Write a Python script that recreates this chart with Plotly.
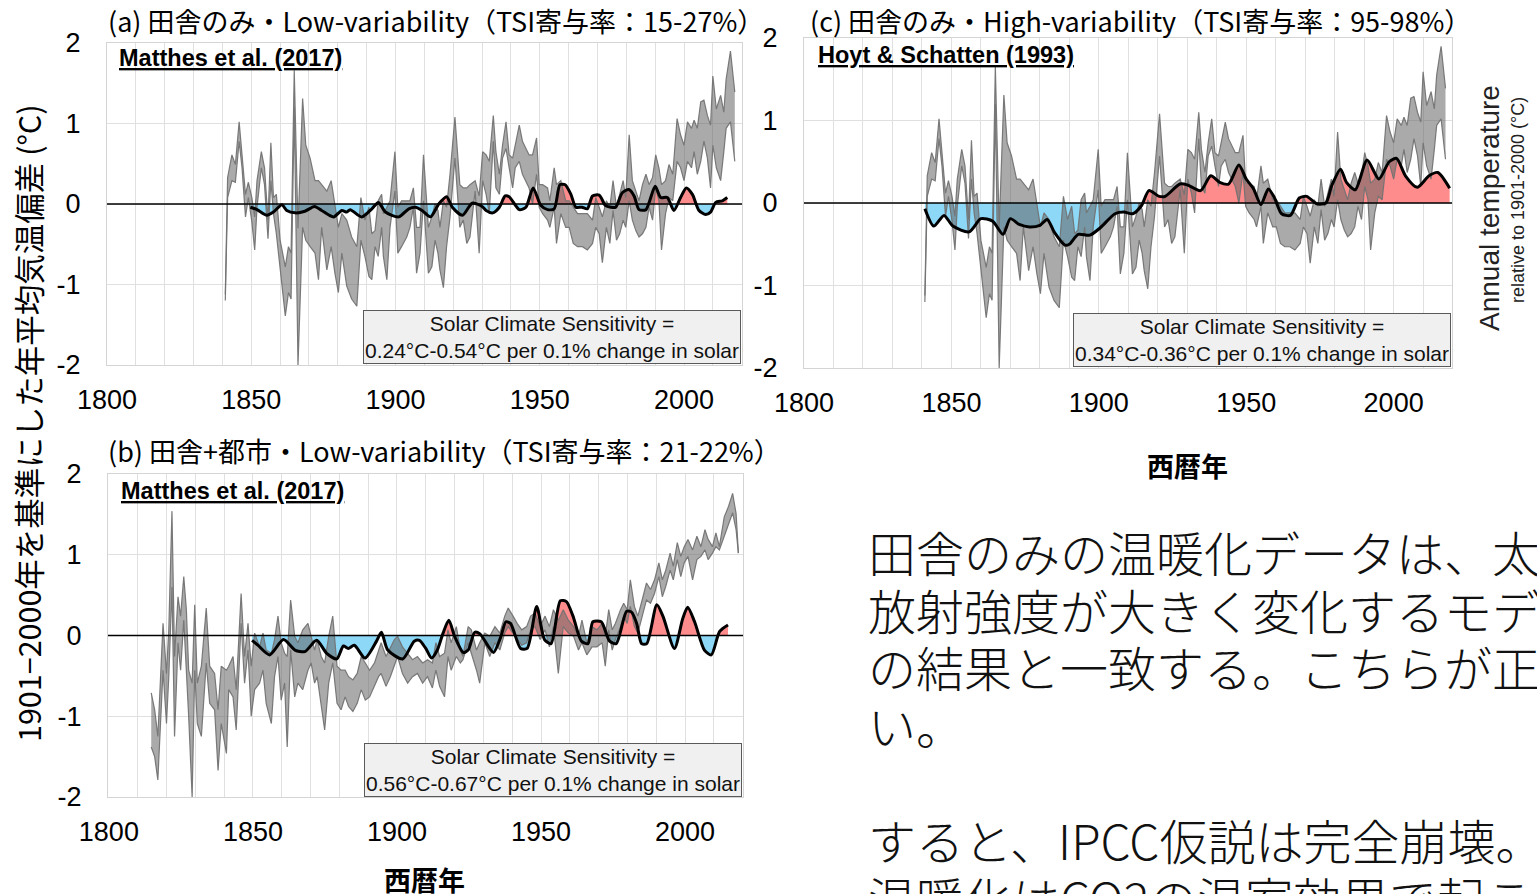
import plotly.graph_objects as go

# ---------------------------------------------------------------------------
# Data
# ---------------------------------------------------------------------------
# Rural-only temperature anomaly range (upper / lower envelope), deg C
RURAL_YEARS = [1841.0, 1841.8, 1843.3, 1844.5, 1845.8, 1846.8, 1848.0, 1849.0, 1850.2, 1851.2,
               1852.0, 1853.5, 1854.6, 1855.8, 1856.8, 1857.7, 1858.7, 1860.0, 1861.8, 1862.9,
               1863.8, 1864.9, 1866.2, 1867.8, 1868.9, 1870.4, 1872.1, 1873.3, 1874.4, 1876.2,
               1877.7, 1879.0, 1880.2, 1881.4, 1883.1, 1884.8, 1886.6, 1888.0, 1889.4, 1890.8,
               1891.8, 1892.9, 1894.0, 1895.2, 1895.8, 1897.0, 1898.1, 1899.8, 1900.8, 1902.1,
               1903.9, 1905.0, 1906.2, 1907.3, 1908.5, 1909.7, 1911.4, 1912.6, 1913.7, 1914.7,
               1915.4, 1916.6, 1917.7, 1918.9, 1920.6, 1922.3, 1923.5, 1924.7, 1925.8, 1927.6,
               1929.0, 1930.2, 1931.4, 1932.5, 1933.9, 1934.8, 1936.0, 1937.1, 1938.3, 1939.4,
               1940.6, 1941.5, 1942.9, 1944.0, 1945.2, 1946.3, 1947.5, 1948.9, 1949.8, 1951.0,
               1952.7, 1953.5, 1955.0, 1955.8, 1957.3, 1959.0, 1960.2, 1961.6, 1963.1, 1964.8,
               1966.5, 1968.3, 1969.4, 1970.6, 1971.7, 1973.1, 1974.3, 1975.4, 1976.6, 1977.7,
               1978.9, 1979.8, 1981.0, 1982.1, 1983.3, 1984.4, 1985.6, 1986.8, 1987.9, 1989.1,
               1990.2, 1991.3, 1992.2, 1993.6, 1994.8, 1996.1, 1997.6, 1998.8, 2000.0, 2001.2,
               2002.6, 2003.5, 2004.6, 2005.8, 2006.9, 2008.1, 2009.2, 2010.0, 2011.2, 2012.7,
               2013.8, 2014.6, 2016.1, 2017.6]
RURAL_UPPER = [-1.12, 0.33, 0.61, 0.49, 1.02, 0.65, 0.12, 0.27, 0.08, -0.16,
               0.29, 0.65, 0.45, -0.20, 0.76, 0.08, 0.12, -0.45, -0.78, -0.53,
               -0.61, 1.66, -0.30, 1.31, 0.73, 0.57, 0.29, 0.29, 0.24, 0.16,
               0.29, -0.04, -0.29, -0.12, -0.20, -0.41, -0.53, 0.08, -0.20, -0.04,
               -0.37, -0.33, 0.04, 0.12, -0.12, -0.04, 0.04, 0.65, -0.04, 0.04,
               0.04, 0.04, 0.20, -0.29, -0.29, 0.61, -0.29, -0.16, 0.00, -0.08,
               -0.29, 0.04, -0.04, 0.37, 1.08, 0.24, 0.20, 0.20, 0.24, 0.29,
               0.10, 0.65, 0.61, 0.53, 1.10, 0.65, 0.37, 0.73, 1.02, 0.61,
               0.57, 0.73, 0.98, 0.78, 0.69, 0.61, 0.61, 0.82, 0.24, 0.24,
               0.20, 0.04, 0.45, 0.24, 0.29, 0.04, 0.04, -0.04, -0.12, -0.12,
               -0.12, -0.20, 0.08, -0.04, -0.16, 0.04, -0.04, 0.29, -0.04, 0.12,
               0.29, 0.08, 0.86, 0.29, 0.16, 0.04, 0.24, 0.37, 0.24, 0.33,
               0.61, 0.45, 0.24, 0.29, 0.49, 0.37, 1.06, 0.86, 0.73, 1.02,
               0.94, 1.04, 0.94, 1.27, 1.29, 1.10, 0.98, 1.59, 1.18, 1.35,
               1.14, 1.55, 1.90, 1.39]
RURAL_LOWER = [-1.20, 0.08, 0.29, 0.27, 0.78, 0.45, -0.16, 0.08, -0.22, -0.57,
               -0.04, 0.45, 0.24, -0.43, 0.29, -0.12, -0.37, -0.78, -1.39, -1.10,
               -1.18, 1.20, -2.00, -0.29, -0.45, -0.53, -0.61, -0.94, -0.29, -0.82,
               -0.53, -0.86, -1.10, -0.61, -1.02, -1.18, -1.27, -0.45, -0.65, -0.90,
               -0.94, -0.53, -0.65, -0.29, -0.65, -0.94, -0.29, 0.16, -0.61, -0.53,
               -0.41, -0.29, -0.04, -0.86, -0.61, 0.04, -0.86, -0.78, -0.45, -0.61,
               -0.82, -1.04, -0.53, -0.16, 0.57, -0.29, -0.20, -0.49, -0.41, 0.16,
               -0.61, 0.29, 0.12, -0.12, 0.78, 0.20, 0.12, 0.57, 0.69, 0.45,
               0.20, 0.45, 0.53, 0.37, 0.29, 0.20, 0.00, 0.37, -0.04, -0.12,
               -0.20, -0.29, -0.04, -0.49, -0.12, -0.29, -0.29, -0.49, -0.53, -0.53,
               -0.57, -0.49, -0.29, -0.37, -0.73, -0.29, -0.49, -0.08, -0.45, -0.37,
               -0.20, -0.29, 0.04, -0.20, -0.33, -0.41, -0.37, -0.29, -0.04, -0.20,
               0.20, 0.04, -0.57, -0.12, 0.08, 0.04, 0.53, 0.45, 0.29, 0.53,
               0.45, 0.65, 0.37, 0.53, 0.78, 0.57, 0.20, 0.73, 0.45, 0.29,
               0.65, 0.94, 1.02, 0.53]

# Rural + urban temperature anomaly range (upper / lower envelope), deg C
ALL_YEARS = [1814.7, 1815.9, 1817.0, 1818.2, 1818.8, 1820.0, 1820.8, 1821.9, 1822.8, 1824.0,
             1824.9, 1826.0, 1826.9, 1827.7, 1828.9, 1829.8, 1830.7, 1832.1, 1833.8, 1835.0,
             1836.7, 1837.9, 1839.0, 1840.8, 1841.6, 1843.1, 1844.2, 1845.9, 1847.1, 1848.3,
             1849.4, 1850.6, 1852.3, 1853.5, 1854.6, 1856.4, 1857.5, 1858.7, 1859.8, 1861.0,
             1861.9, 1863.1, 1864.5, 1865.6, 1867.3, 1869.1, 1870.2, 1871.4, 1872.3, 1873.7,
             1874.9, 1876.3, 1877.7, 1879.2, 1880.6, 1882.0, 1883.2, 1884.7, 1886.2, 1887.6,
             1889.0, 1890.5, 1892.2, 1893.6, 1894.5, 1896.2, 1897.7, 1899.1, 1900.2, 1901.9,
             1903.7, 1905.4, 1907.1, 1908.9, 1910.6, 1912.3, 1913.5, 1914.8, 1916.5, 1917.7,
             1918.8, 1920.6, 1922.0, 1922.9, 1924.7, 1925.8, 1927.6, 1928.7, 1930.5, 1932.2,
             1934.0, 1935.7, 1937.4, 1938.6, 1940.3, 1941.7, 1943.3, 1945.0, 1946.4, 1947.9,
             1949.7, 1951.4, 1952.9, 1954.3, 1956.0, 1957.7, 1959.5, 1961.3, 1963.0, 1964.2,
             1965.9, 1967.7, 1969.4, 1971.2, 1972.3, 1973.5, 1974.7, 1975.8, 1977.6, 1978.7,
             1979.9, 1981.0, 1982.4, 1983.6, 1985.1, 1986.6, 1988.0, 1989.4, 1990.9, 1992.1,
             1993.3, 1994.8, 1995.9, 1997.3, 1998.5, 1999.7, 2001.0, 2002.6, 2004.1, 2005.5,
             2006.9, 2008.0, 2009.5, 2010.7, 2011.9, 2013.6, 2015.1, 2016.5, 2017.7, 2018.5]
ALL_UPPER = [-0.71, -0.92, -1.25, -0.34, 0.15, -0.47, 0.07, 1.54, -0.26, 0.48,
             0.24, 0.73, 0.32, -0.43, -0.59, 0.38, -0.59, -0.38, 0.34, -0.38,
             -0.47, -0.92, -0.38, -0.43, -0.38, -0.26, -0.67, 0.52, -0.26, 0.15,
             -0.38, 0.03, -0.14, 0.03, -0.18, -0.22, -0.05, 0.24, -0.09, -0.22,
             -0.26, 0.44, -0.01, -0.09, 0.07, 0.15, -0.01, -0.18, -0.05, -0.26,
             -0.34, -0.01, 0.24, -0.38, -0.43, -0.43, -0.51, -0.55, -0.47, -0.26,
             -0.34, -0.43, -0.34, -0.18, -0.09, -0.26, -0.14, -0.05, -0.01, -0.14,
             -0.22, -0.30, -0.26, -0.34, -0.30, -0.34, -0.09, -0.26, -0.22, 0.07,
             -0.09, 0.11, -0.18, -0.26, 0.11, 0.07, -0.18, -0.09, 0.03, -0.01,
             0.11, 0.03, 0.24, 0.34, 0.24, 0.15, 0.07, 0.11, 0.24, 0.28,
             0.11, 0.24, 0.11, 0.32, 0.19, 0.32, 0.19, 0.11, -0.01, 0.19,
             -0.09, 0.11, 0.07, 0.15, -0.01, 0.32, 0.07, 0.15, 0.32, 0.40,
             0.32, 0.69, 0.36, 0.24, 0.44, 0.65, 0.57, 0.69, 0.90, 0.69,
             0.81, 1.02, 0.86, 1.15, 0.98, 1.10, 1.19, 1.06, 1.23, 1.10,
             1.31, 1.19, 1.10, 1.27, 1.10, 1.47, 1.60, 1.76, 1.51, 1.02]
ALL_LOWER = [-1.38, -1.50, -1.79, -0.92, -0.43, -1.09, -0.51, 0.60, -1.25, -0.09,
             -0.43, 0.19, -0.43, -1.00, -2.00, -0.43, -1.09, -1.25, -0.34, -0.84,
             -0.92, -1.67, -1.09, -1.46, -0.67, -0.76, -1.17, 0.15, -0.59, -0.18,
             -1.00, -0.67, -0.59, -0.43, -0.84, -1.09, -0.51, -0.26, -0.80, -0.59,
             -1.38, -0.18, -0.76, -0.59, -0.67, -0.43, -0.34, -0.59, -0.51, -0.84,
             -1.17, -0.59, -0.34, -0.84, -0.92, -0.76, -0.88, -0.94, -0.84, -0.67,
             -0.80, -0.76, -0.63, -0.51, -0.47, -0.63, -0.51, -0.38, -0.26, -0.47,
             -0.59, -0.51, -0.47, -0.59, -0.51, -0.65, -0.43, -0.63, -0.76, -0.26,
             -0.43, -0.26, -0.34, -0.30, -0.09, -0.22, -0.43, -0.59, -0.09, -0.26,
             -0.09, -0.18, 0.03, 0.11, 0.03, -0.05, -0.12, -0.09, 0.07, 0.11,
             -0.05, 0.07, -0.14, 0.11, -0.47, 0.11, 0.03, -0.01, -0.18, -0.09,
             -0.24, -0.14, -0.14, -0.09, -0.38, 0.07, -0.18, -0.05, 0.11, 0.24,
             0.15, 0.36, 0.11, 0.03, 0.24, 0.44, 0.40, 0.52, 0.73, 0.48,
             0.61, 0.81, 0.69, 0.94, 0.73, 0.90, 0.98, 0.69, 0.94, 0.98,
             1.06, 0.94, 1.02, 1.10, 1.06, 1.23, 1.40, 1.52, 1.31, 1.02]

# Model fits (solar forcing x sensitivity), deg C
MODEL_A_YEARS = [1849.7, 1852.0, 1855.4, 1857.7, 1860.6, 1862.3, 1865.2, 1868.6, 1871.9, 1874.4,
                 1878.5, 1881.4, 1883.1, 1884.3, 1888.3, 1891.8, 1894.1, 1896.5, 1901.1, 1904.6,
                 1906.9, 1909.2, 1912.1, 1915.0, 1917.7, 1919.7, 1923.2, 1926.6, 1930.0, 1931.4,
                 1933.7, 1936.0, 1938.0, 1939.4, 1942.9, 1945.2, 1947.7, 1950.4, 1952.7, 1955.0,
                 1957.0, 1958.8, 1960.8, 1962.5, 1964.6, 1966.5, 1968.3, 1970.6, 1972.8, 1974.6,
                 1976.3, 1978.6, 1980.9, 1982.7, 1984.4, 1986.8, 1990.0, 1991.9, 1994.2, 1996.5,
                 1998.8, 2000.8, 2002.9, 2005.2, 2007.5, 2009.2, 2011.0, 2013.3, 2015.0]
MODEL_A = [-0.04, -0.07, -0.14, -0.10, -0.01, -0.08, -0.11, -0.09, -0.03, -0.08,
           -0.16, -0.08, -0.10, -0.07, -0.16, -0.06, 0.02, -0.10, -0.16, -0.06,
           -0.04, -0.08, -0.16, 0.00, 0.09, -0.04, -0.14, 0.01, -0.03, -0.08,
           -0.11, -0.04, 0.10, 0.09, -0.07, -0.04, 0.20, -0.02, -0.07, -0.06,
           0.24, 0.24, 0.12, -0.04, -0.04, -0.06, 0.10, 0.11, -0.02, -0.04,
           -0.04, 0.14, 0.18, 0.10, -0.07, -0.07, 0.22, 0.08, 0.08, -0.08,
           0.08, 0.20, 0.12, -0.08, -0.13, -0.10, 0.02, 0.04, 0.08]

MODEL_B_YEARS = [1849.7, 1851.7, 1855.8, 1860.6, 1864.6, 1868.0, 1872.1, 1875.6, 1879.1, 1881.4,
                 1883.1, 1885.2, 1888.9, 1892.9, 1894.6, 1896.8, 1902.0, 1906.0, 1907.8, 1910.0,
                 1912.0, 1914.0, 1916.0, 1918.0, 1920.0, 1923.0, 1924.7, 1927.0, 1928.8, 1933.5,
                 1936.0, 1937.8, 1939.4, 1942.9, 1945.2, 1948.5, 1951.2, 1953.5, 1956.7, 1958.8,
                 1961.1, 1964.0, 1966.3, 1968.0, 1970.9, 1973.8, 1976.1, 1979.7, 1981.4, 1983.2,
                 1984.9, 1986.7, 1990.2, 1992.3, 1996.3, 1999.2, 2000.9, 2003.3, 2006.7, 2009.1,
                 2012.0, 2014.9]
MODEL_B = [-0.06, -0.12, -0.24, -0.05, -0.18, -0.20, -0.06, -0.22, -0.29, -0.13,
           -0.16, -0.12, -0.28, -0.07, 0.04, -0.18, -0.29, -0.07, -0.06, -0.16,
           -0.28, -0.18, 0.03, 0.19, -0.01, -0.21, -0.18, 0.04, 0.02, -0.21,
           -0.02, 0.17, 0.15, -0.16, -0.16, 0.36, -0.05, -0.10, 0.43, 0.42,
           0.24, -0.07, -0.10, 0.17, 0.17, -0.07, -0.10, 0.30, 0.29, 0.15,
           -0.10, -0.10, 0.38, 0.24, -0.16, 0.21, 0.35, 0.17, -0.18, -0.24,
           0.05, 0.13]

MODEL_C_YEARS = [1841.0, 1844.0, 1847.5, 1850.5, 1856.0, 1860.0, 1864.0, 1867.5, 1870.0, 1873.0,
                 1876.5, 1880.0, 1882.5, 1885.0, 1888.5, 1890.0, 1893.0, 1897.0, 1900.5, 1905.5,
                 1908.5, 1911.5, 1914.5, 1917.0, 1920.5, 1922.5, 1927.5, 1930.0, 1934.5, 1938.0,
                 1941.0, 1944.0, 1947.5, 1950.0, 1952.5, 1955.0, 1957.5, 1959.5, 1962.0, 1965.0,
                 1968.0, 1970.5, 1974.0, 1977.0, 1979.0, 1982.0, 1984.0, 1987.0, 1991.0, 1995.0,
                 1998.5, 2001.0, 2004.0, 2008.0, 2012.0, 2015.0, 2019.0]
MODEL_C = [-0.07, -0.28, -0.15, -0.28, -0.35, -0.19, -0.22, -0.38, -0.19, -0.26,
           -0.29, -0.27, -0.20, -0.36, -0.51, -0.50, -0.38, -0.39, -0.30, -0.13,
           -0.11, -0.13, -0.03, 0.15, 0.08, 0.08, 0.23, 0.22, 0.15, 0.33,
           0.25, 0.23, 0.46, 0.29, 0.17, -0.02, 0.17, 0.07, -0.13, -0.15,
           0.06, 0.08, -0.01, 0.00, 0.21, 0.41, 0.25, 0.16, 0.52, 0.29,
           0.50, 0.54, 0.33, 0.19, 0.33, 0.37, 0.18]

YEAR_TICKS = [1800, 1850, 1900, 1950, 2000]
YEAR_TICK_TEXT = ["1800", "1850", "1900", "1950", "2000"]
TEMP_TICKS = [-2, -1, 0, 1, 2]
TEMP_TICK_TEXT = ["-2", "-1", "0", "1", "2"]

# ---------------------------------------------------------------------------
# Layout helpers (pixel positions on a 1537 x 894 canvas)
# ---------------------------------------------------------------------------
W, H = 1537, 894


def fx(p):
    return p / W


def fy(p):
    return 1 - p / H


PANELS = [
    dict(xa="x", ya="y", l=107, r=742, t=43, b=365, xr=[1800, 2020.1],
         years=RURAL_YEARS, up=RURAL_UPPER, lo=RURAL_LOWER,
         my=MODEL_A_YEARS, mv=MODEL_A),
    dict(xa="x2", ya="y2", l=108, r=743, t=474, b=797, xr=[1799.7, 2020.1],
         years=ALL_YEARS, up=ALL_UPPER, lo=ALL_LOWER,
         my=MODEL_B_YEARS, mv=MODEL_B),
    dict(xa="x3", ya="y3", l=804, r=1452, t=38, b=368, xr=[1800, 2019.8],
         years=RURAL_YEARS, up=RURAL_UPPER, lo=RURAL_LOWER,
         my=MODEL_C_YEARS, mv=MODEL_C),
]

RED = "#ff8c8c"
BLUE = "#8dd7f7"
BAND_FILL = "rgba(100,100,100,0.55)"
BAND_EDGE = "rgba(115,115,115,0.95)"
SMOOTH = dict(shape="spline", smoothing=0.7)


def split_by_sign(xs, ys):
    """Split a curve into its positive and negative parts, adding the zero crossings."""
    px_, py_, nx_, ny_ = [], [], [], []
    for i, (x, y) in enumerate(zip(xs, ys)):
        if i > 0:
            x0, y0 = xs[i - 1], ys[i - 1]
            if (y0 > 0 > y) or (y0 < 0 < y):
                xc = x0 + (x - x0) * y0 / (y0 - y)
                px_.append(xc); py_.append(0.0)
                nx_.append(xc); ny_.append(0.0)
        px_.append(x); py_.append(max(y, 0.0))
        nx_.append(x); ny_.append(min(y, 0.0))
    return px_, py_, nx_, ny_


fig = go.Figure()

for p in PANELS:
    xa, ya = p["xa"], p["ya"]
    pxs, pys, nxs, nys = split_by_sign(p["my"], p["mv"])
    fig.add_trace(go.Scatter(x=pxs, y=pys, xaxis=xa, yaxis=ya, mode="lines",
                             line=dict(width=0, **SMOOTH), fill="tozeroy", fillcolor=RED,
                             hoverinfo="skip", showlegend=False))
    fig.add_trace(go.Scatter(x=nxs, y=nys, xaxis=xa, yaxis=ya, mode="lines",
                             line=dict(width=0, **SMOOTH), fill="tozeroy", fillcolor=BLUE,
                             hoverinfo="skip", showlegend=False))
    fig.add_trace(go.Scatter(x=p["years"], y=p["lo"], xaxis=xa, yaxis=ya, mode="lines",
                             line=dict(color=BAND_EDGE, width=1.2),
                             hoverinfo="skip", showlegend=False))
    fig.add_trace(go.Scatter(x=p["years"], y=p["up"], xaxis=xa, yaxis=ya, mode="lines",
                             line=dict(color=BAND_EDGE, width=1.2), fill="tonexty",
                             fillcolor=BAND_FILL, hoverinfo="skip", showlegend=False))
    fig.add_trace(go.Scatter(x=p["my"], y=p["mv"], xaxis=xa, yaxis=ya, mode="lines",
                             line=dict(color="black", width=3, **SMOOTH),
                             hoverinfo="skip", showlegend=False))

axis_font = dict(family="Arial, Liberation Sans", size=27, color="black")
layout_axes = {}
for p in PANELS:
    xkey = "xaxis" + p["xa"][1:]
    ykey = "yaxis" + p["ya"][1:]
    layout_axes[xkey] = dict(
        domain=[fx(p["l"]), fx(p["r"])], range=p["xr"], anchor=p["ya"],
        tickmode="array", tickvals=YEAR_TICKS, ticktext=YEAR_TICK_TEXT,
        tickfont=axis_font, ticks="", ticklabelstandoff=11, automargin=False,
        showgrid=True, gridcolor="#e0e0e0", gridwidth=1,
        minor=dict(tickmode="linear", tick0=1800, dtick=10, showgrid=True,
                   gridcolor="#e0e0e0", gridwidth=1, ticks=""),
        showline=True, mirror=True, linecolor="#d4d4d4", linewidth=1,
        zeroline=False, fixedrange=True,
    )
    layout_axes[ykey] = dict(
        domain=[fy(p["b"]), fy(p["t"])], range=[-2, 2], anchor=p["xa"],
        tickmode="array", tickvals=TEMP_TICKS, ticktext=TEMP_TICK_TEXT,
        tickfont=axis_font, ticks="", ticklabelstandoff=20, automargin=False,
        showgrid=True, gridcolor="#e0e0e0", gridwidth=1,
        showline=True, mirror=True, linecolor="#d4d4d4", linewidth=1,
        zeroline=False, fixedrange=True,
    )

shapes = []
for p in PANELS:
    shapes.append(dict(type="line", xref=p["xa"] + " domain", yref=p["ya"],
                       x0=0, x1=1, y0=0, y1=0, layer="above",
                       line=dict(color="black", width=1.5)))

JP = "Noto Sans CJK JP"
annotations = []


def note(text, x, y, size, family=JP, xanchor="left", yanchor="middle", angle=0,
         weight="normal", color="black", **kw):
    annotations.append(dict(text=text, x=fx(x), y=fy(y), xref="paper", yref="paper",
                            xanchor=xanchor, yanchor=yanchor, showarrow=False,
                            textangle=angle,
                            font=dict(family=family, size=size, color=color, weight=weight),
                            **kw))


# panel titles
note("(a) 田舎のみ・Low-variability（TSI寄与率：15-27%）", 106, 20, 27)
note("(c) 田舎のみ・High-variability（TSI寄与率：95-98%）", 808, 20, 27)
note("(b) 田舎+都市・Low-variability（TSI寄与率：21-22%）", 106, 451, 27)

# data source labels
UL = '<span style="text-decoration:underline">{}</span>'
note("<b>" + UL.format("Matthes et al. (2017)") + "</b>", 117, 58, 23.5, family="Arial")
note("<b>" + UL.format("Hoyt &amp; Schatten (1993)") + "</b>", 816, 55, 23.5, family="Arial")
note("<b>" + UL.format("Matthes et al. (2017)") + "</b>", 119, 491, 23.5, family="Arial")

# sensitivity boxes
BOX = dict(bgcolor="#f0f0f0", bordercolor="#5a5a5a", borderwidth=1, borderpad=1,
           align="center")
note("Solar Climate Sensitivity =<br>0.24°C-0.54°C per 0.1% change in solar",
     740.5, 364.5, 21, family="Arial", xanchor="right", yanchor="bottom", color="#111", **BOX)
note("Solar Climate Sensitivity =<br>0.34°C-0.36°C per 0.1% change in solar",
     1451, 366.5, 21, family="Arial", xanchor="right", yanchor="bottom", color="#111", **BOX)
note("Solar Climate Sensitivity =<br>0.56°C-0.67°C per 0.1% change in solar",
     742, 796.5, 21, family="Arial", xanchor="right", yanchor="bottom", color="#111", **BOX)

# axis titles
note("1901−2000年を基準にした年平均気温偏差 (°C)", 28, 423, 30.5, xanchor="center", angle=-90)
note("西暦年", 1187, 465, 27, xanchor="center", weight="bold")
note("西暦年", 425, 879, 27, xanchor="center", weight="bold")
note("Annual temperature", 1490, 208, 28, family="Arial", xanchor="center", angle=-90,
     color="#222")
note("relative to 1901-2000 (°C)", 1518, 200, 18, family="Arial", xanchor="center",
     angle=-90, color="#222")

# commentary text
BODY = ["田舎のみの温暖化データは、太陽",
        "放射強度が大きく変化するモデル",
        "の結果と一致する。こちらが正し",
        "い。",
        "すると、IPCC仮説は完全崩壊。",
        "温暖化はCO2の温室効果で起こっていない。"]
BODY_Y = [551, 609, 666, 724, 839, 897]
for line, yy in zip(BODY, BODY_Y):
    note(line, 866, yy, 48, weight=300, color="#111")

fig.update_layout(
    width=W, height=H,
    margin=dict(l=0, r=0, t=0, b=0, autoexpand=False),
    paper_bgcolor="white", plot_bgcolor="white",
    showlegend=False,
    font=dict(family="Arial, Liberation Sans", color="black"),
    shapes=shapes, annotations=annotations,
    **layout_axes,
)

fig.write_html("out.html", config={"displayModeBar": False})
